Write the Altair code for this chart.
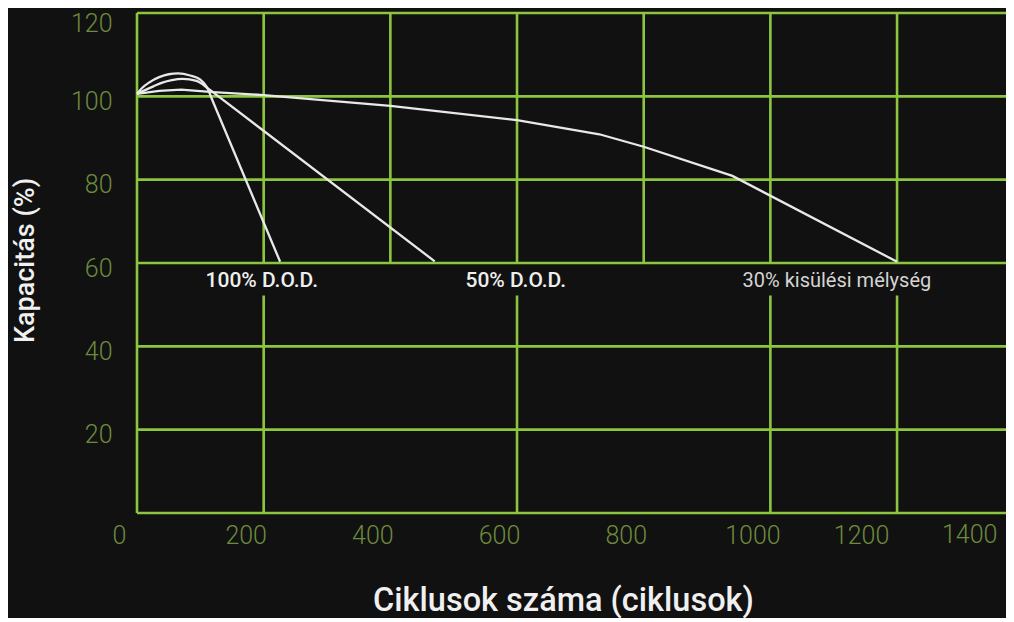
import altair as alt
import pandas as pd

# ---------------- data ----------------
x_ticks = [0, 200, 400, 600, 800, 1000, 1200]
x_tick_extra = [1400]
y_ticks = [20, 40, 60, 80, 100, 120]
h_grid = [0, 20, 40, 60, 80, 100, 120]
v_grid_upper = [0, 200, 400, 600, 800, 1000, 1200]
v_grid_lower = [200, 600, 1000, 1200]

cycles_100 = [0, 8, 20, 35, 50, 65, 84, 99, 110, 120, 226]
cap_100 = [100.6, 102.0, 103.4, 104.6, 105.3, 105.5, 105.0, 104.1, 102.3, 98.7, 60.3]

cycles_50 = [0, 10, 26, 40, 55, 72, 94, 113, 125, 470]
cap_50 = [100.6, 101.3, 102.4, 103.3, 103.9, 104.2, 103.7, 101.8, 100.4, 60.4]

cycles_30 = [0, 35, 70, 120, 200, 400, 600, 730, 800, 940, 1200]
cap_30 = [100.6, 101.3, 101.6, 101.0, 100.3, 97.7, 94.3, 90.9, 87.9, 80.9, 60.3]

label_text = ["100% D.O.D.", "50% D.O.D."]
label_x = [197, 598]
label_y = [55.8, 55.8]
label30_text = ["30% kisülési mélység"]
label30_x = [1105]
label30_y = [55.8]

X_MAX = 1372
Y_MAX = 120
lower_top = 52.2

# ---------------- styling ----------------
BG = "#111111"
GRID = "#8cc63e"
TICK_LABEL = "#6d8b3d"
LINE = "#e8e8e8"
FONT = "Roboto"

xs = alt.Scale(domain=[0, X_MAX], nice=False, zero=False)
ys = alt.Scale(domain=[0, Y_MAX], nice=False, zero=False)

x_axis = alt.Axis(
    values=x_ticks, format="d", grid=False, domain=False, ticks=False, tickSize=0,
    labelColor=TICK_LABEL, labelFont=FONT, labelFontSize=25, labelFontWeight=300,
    labelPadding=22, labelBaseline="middle", labelAlign="center",
    labelOffset=alt.ExprRef("datum.value == 1200 ? -36 : -18"),
    labelOverlap=False, labelFlush=False,
    title="Ciklusok száma (ciklusok)", titleColor="#f0f0f0", titleFont=FONT,
    titleFontSize=32.5, titleFontWeight=500, titleX=426, titleY=97,
    titleBaseline="alphabetic", titleAlign="center",
)
y_axis = alt.Axis(
    values=y_ticks, grid=False, domain=False, ticks=False, tickSize=0,
    labelColor=TICK_LABEL, labelFont=FONT, labelFontSize=25, labelFontWeight=300,
    labelPadding=25, labelBaseline="middle",
    labelOffset=alt.ExprRef("datum.value == 120 ? 10 : 5"),
    labelOverlap=False, labelFlush=False,
    title="Kapacitás (%)", titleColor="#f0f0f0", titleFont=FONT,
    titleFontSize=27, titleFontWeight=500, titleX=-112, titleY=247,
    titleAngle=270, titleBaseline="middle", titleAlign="center",
)


def X(field):
    return alt.X(field, scale=xs, axis=x_axis, title="Ciklusok száma (ciklusok)")


def Y(field):
    return alt.Y(field, scale=ys, axis=y_axis, title="Kapacitás (%)")


# grid: horizontal lines
hdf = pd.DataFrame({"y": h_grid, "x0": [0] * len(h_grid), "x1": [X_MAX] * len(h_grid)})
hrules = alt.Chart(hdf).mark_rule(color=GRID, strokeWidth=2.6).encode(
    x=X("x0:Q"), x2="x1:Q", y=Y("y:Q"),
)

# grid: vertical lines, upper part (60-120) and left border full height
vu = pd.DataFrame({
    "x": v_grid_upper,
    "y0": [0 if v == 0 else 60 for v in v_grid_upper],
    "y1": [Y_MAX] * len(v_grid_upper),
})
vrules_u = alt.Chart(vu).mark_rule(color=GRID, strokeWidth=2.6).encode(
    x=X("x:Q"), y=Y("y0:Q"), y2="y1:Q",
)

vl = pd.DataFrame({
    "x": v_grid_lower,
    "y0": [0] * len(v_grid_lower),
    "y1": [lower_top] * len(v_grid_lower),
})
vrules_l = alt.Chart(vl).mark_rule(color=GRID, strokeWidth=2.6).encode(
    x=X("x:Q"), y=Y("y0:Q"), y2="y1:Q",
)

# curves
hump = pd.concat([
    pd.DataFrame({"c": cycles_100, "v": cap_100, "s": "100"}),
    pd.DataFrame({"c": cycles_50, "v": cap_50, "s": "50"}),
])
hump_lines = alt.Chart(hump).mark_line(
    color=LINE, strokeWidth=2.3, interpolate="monotone"
).encode(
    x=X("c:Q"), y=Y("v:Q"), detail="s:N",
)

d30 = pd.DataFrame({"c": cycles_30, "v": cap_30})
line30 = alt.Chart(d30).mark_line(color=LINE, strokeWidth=2.3).encode(
    x=X("c:Q"), y=Y("v:Q"),
)

# annotations
ldf = pd.DataFrame({"x": label_x, "y": label_y, "t": label_text})
labels = alt.Chart(ldf).mark_text(
    font=FONT, fontSize=21, fontWeight=500, color="#eeeeee",
    align="center", baseline="middle",
).encode(
    x=X("x:Q"), y=Y("y:Q"), text="t:N",
)
l30 = pd.DataFrame({"x": label30_x, "y": label30_y, "t": label30_text})
label30 = alt.Chart(l30).mark_text(
    font=FONT, fontSize=20, fontWeight=400, color="#d4d4d4",
    align="center", baseline="middle",
).encode(
    x=X("x:Q"), y=Y("y:Q"), text="t:N",
)

# the last x tick label lies just past the visible plot edge
xe = pd.DataFrame({"x": x_tick_extra, "y": [0] * len(x_tick_extra),
                   "t": [str(v) for v in x_tick_extra]})
extra_tick = alt.Chart(xe).mark_text(
    font=FONT, fontSize=25, fontWeight=300, color=TICK_LABEL,
    align="center", baseline="middle", dx=-54, dy=22,
).encode(
    x=X("x:Q"), y=Y("y:Q"), text="t:N",
)

chart = alt.layer(
    hrules, vrules_u, vrules_l, line30, hump_lines, labels, label30, extra_tick
).properties(
    width=869, height=500,
    autosize=alt.AutoSizeParams(type="none"),
    padding={"left": 129, "top": 5, "right": 0, "bottom": 105},
    background=BG,
).configure_view(stroke=None)

chart.save("out.html", embed_options={"renderer": "svg", "actions": False})
